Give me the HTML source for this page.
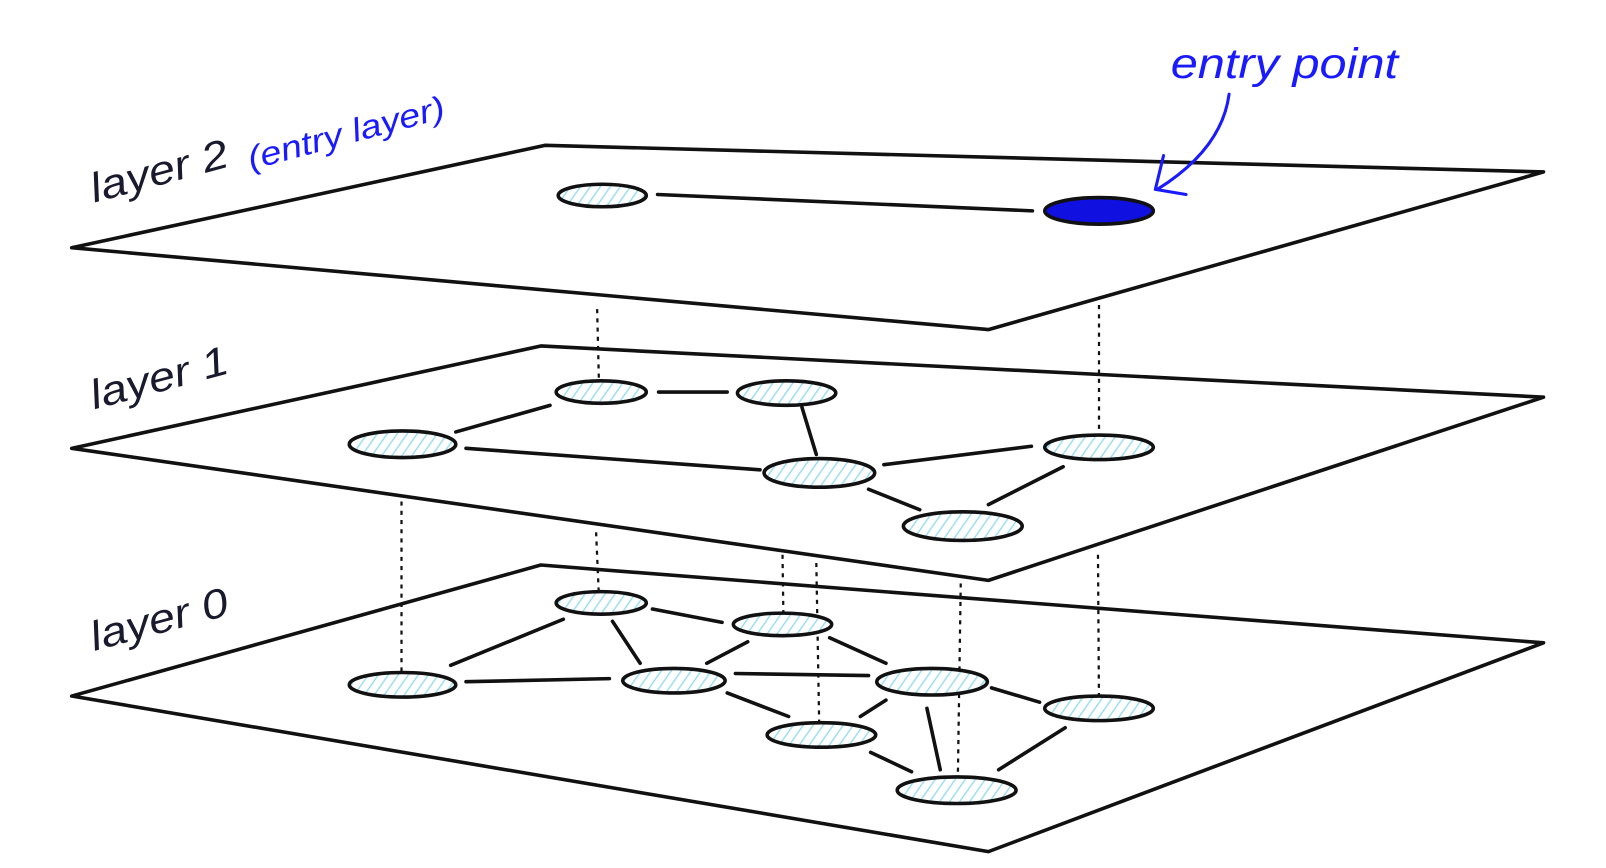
<!DOCTYPE html>
<html><head><meta charset="utf-8"><style>
html,body{margin:0;padding:0;background:#fff;width:1606px;height:868px;overflow:hidden}
svg{display:block}
text{font-family:"Liberation Sans",sans-serif;font-style:italic}
</style></head><body>
<svg width="1606" height="868" viewBox="0 0 1568 848" preserveAspectRatio="none" xmlns="http://www.w3.org/2000/svg">
<defs>
<pattern id="h" width="8" height="8" patternUnits="userSpaceOnUse" patternTransform="rotate(35)">
<rect width="8" height="8" fill="#fff"/><line x1="0" y1="0" x2="0" y2="8" stroke="#9fdff0" stroke-width="3"/>
</pattern>
</defs>
<g fill="#fff" stroke="#111" stroke-width="3.5" stroke-linejoin="round">
<polygon points="70,680 528,552 1507,628 965,832"/>
<polygon points="70,438 528,338 1507,388 965,567"/>
<polygon points="70,242 532,142 1507,168 965,322"/>
</g>
<g stroke="#111" stroke-width="2.2" stroke-dasharray="4,5">
<line x1="583" y1="302" x2="585" y2="383"/>
<line x1="1073" y1="298" x2="1073" y2="437"/>
<line x1="392" y1="490" x2="392" y2="669"/>
<line x1="582" y1="520" x2="585" y2="589"/>
<line x1="764" y1="542" x2="765" y2="610"/>
<line x1="797" y1="550" x2="800" y2="718"/>
<line x1="938" y1="570" x2="935" y2="772"/>
<line x1="1072" y1="542" x2="1073" y2="692"/>
</g>
<g stroke="#111" stroke-width="3.5" stroke-linecap="round">
<line x1="642" y1="190" x2="1008" y2="206"/>
<line x1="643" y1="383" x2="710" y2="383"/>
<line x1="445" y1="422" x2="537" y2="396"/>
<line x1="455" y1="438" x2="742" y2="459"/>
<line x1="783" y1="398" x2="797" y2="444"/>
<line x1="863" y1="454" x2="1007" y2="436"/>
<line x1="848" y1="478" x2="898" y2="498"/>
<line x1="1038" y1="456" x2="965" y2="493"/>
<line x1="637" y1="595" x2="705" y2="608"/>
<line x1="550" y1="605" x2="440" y2="650"/>
<line x1="598" y1="607" x2="625" y2="648"/>
<line x1="455" y1="666" x2="595" y2="663"/>
<line x1="690" y1="648" x2="730" y2="627"/>
<line x1="718" y1="658" x2="848" y2="660"/>
<line x1="810" y1="623" x2="865" y2="648"/>
<line x1="710" y1="677" x2="770" y2="700"/>
<line x1="865" y1="684" x2="840" y2="700"/>
<line x1="968" y1="672" x2="1015" y2="686"/>
<line x1="905" y1="692" x2="918" y2="752"/>
<line x1="850" y1="735" x2="890" y2="754"/>
<line x1="1040" y1="711" x2="975" y2="752"/>
</g>
<g stroke="#111" stroke-width="3.5" fill="url(#h)">
<ellipse cx="588" cy="191" rx="43" ry="11"/>
<ellipse cx="587" cy="383" rx="44" ry="11"/>
<ellipse cx="768" cy="384" rx="48" ry="12"/>
<ellipse cx="393" cy="434" rx="52" ry="13"/>
<ellipse cx="800" cy="462" rx="54" ry="14"/>
<ellipse cx="1073" cy="437" rx="53" ry="12"/>
<ellipse cx="940" cy="514" rx="58" ry="14"/>
<ellipse cx="587" cy="589" rx="44" ry="11"/>
<ellipse cx="764" cy="610" rx="48" ry="11"/>
<ellipse cx="393" cy="669" rx="52" ry="12"/>
<ellipse cx="658" cy="665" rx="50" ry="12"/>
<ellipse cx="910" cy="666" rx="54" ry="13"/>
<ellipse cx="1073" cy="692" rx="53" ry="12"/>
<ellipse cx="802" cy="718" rx="53" ry="12"/>
<ellipse cx="934" cy="772" rx="58" ry="13"/>
</g>
<ellipse cx="1073" cy="206" rx="53" ry="13" fill="#1010e0" stroke="#111" stroke-width="3.5"/>
<path d="M1200,92 C1195,130 1170,160 1130,185" fill="none" stroke="#1a1aff" stroke-width="3" stroke-linecap="round"/>
<path d="M1136,152 L1128,185 L1158,190" fill="none" stroke="#1a1aff" stroke-width="3" stroke-linecap="round" stroke-linejoin="round"/>
<text x="1143" y="76" font-size="42" fill="#1a1aff" textLength="222" lengthAdjust="spacingAndGlyphs">entry point</text>
<g fill="#1a1a2e" font-size="40">
<text transform="translate(92,198) rotate(-15)" textLength="138" lengthAdjust="spacingAndGlyphs">layer 2</text>
<text transform="translate(92,400) rotate(-15)" textLength="138" lengthAdjust="spacingAndGlyphs">layer 1</text>
<text transform="translate(92,636) rotate(-15)" textLength="138" lengthAdjust="spacingAndGlyphs">layer 0</text>
</g>
<text transform="translate(245,166) rotate(-15)" font-size="32" fill="#1a1aff" textLength="198" lengthAdjust="spacingAndGlyphs">(entry layer)</text>
</svg>
</body></html>
